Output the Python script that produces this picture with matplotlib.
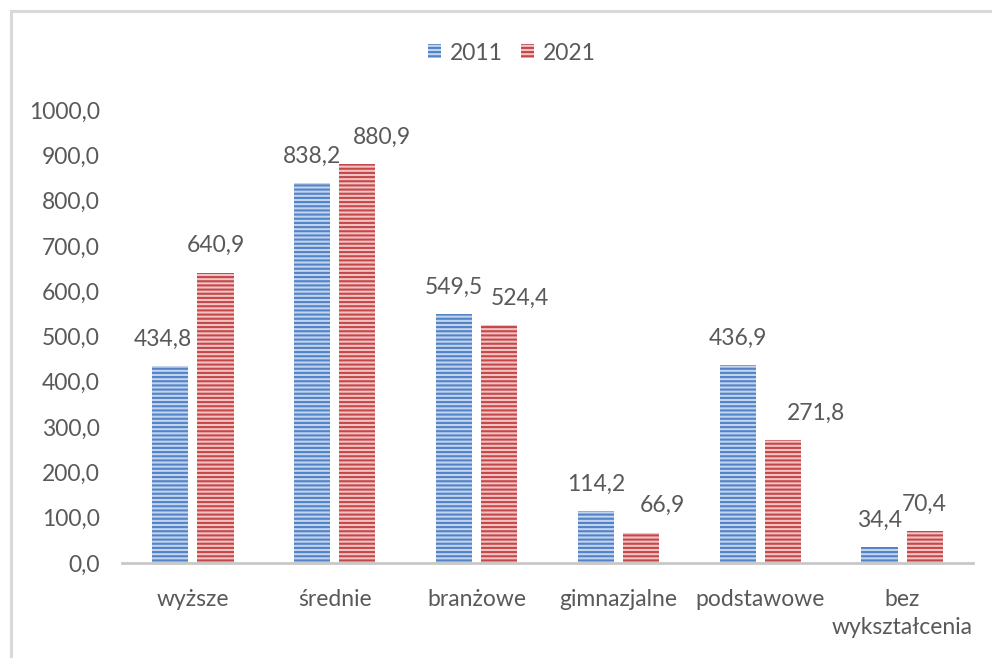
import matplotlib
matplotlib.use("Agg")
import matplotlib.pyplot as plt
import numpy as np
from matplotlib.patches import Patch
from matplotlib.lines import Line2D

categories = ["wyższe", "średnie", "branżowe", "gimnazjalne", "podstawowe", "bez\nwykształcenia"]
years = ["2011", "2021"]
values_2011 = [434.8, 838.2, 549.5, 114.2, 436.9, 34.4]
values_2021 = [640.9, 880.9, 524.4, 66.9, 271.8, 70.4]
yticks = [0, 100, 200, 300, 400, 500, 600, 700, 800, 900, 1000]

# horizontal nudges (in pixels) of data labels, as placed in the original chart
label_dx_2011 = [-8, 0, 0, 0, 0, 0]
label_dx_2021 = [0, 25, 21, 21, 33, 0]

plt.rcParams['font.family'] = ['Lato', 'DejaVu Sans']
plt.rcParams['hatch.linewidth'] = 1.5
TXT = '#595959'
FS = 16.5

fig = plt.figure(figsize=(9.92, 6.58), dpi=100)
ax = fig.add_axes([122/992, 1-563/658, (973-122)/992, (563-110)/658])

x = np.arange(len(categories))
w = 0.255
gap = 0.063
off = (w + gap) / 2
px2pt = 72 / 100

styles = [
    dict(facecolor='#c3d4ee', edgecolor='#5283c6'),
    dict(facecolor='#f0c4c3', edgecolor='#c6474a'),
]
for i, (vals, dxs, st, lab) in enumerate(zip([values_2011, values_2021], [label_dx_2011, label_dx_2021], styles, years)):
    pos = x - off if i == 0 else x + off
    bars = ax.bar(pos, vals, width=w, facecolor=st['facecolor'], edgecolor=st['edgecolor'],
                  hatch='----', linewidth=0, label=lab)
    for b, v, dx in zip(bars, vals, dxs):
        ax.annotate(f"{v:.1f}".replace('.', ','), (b.get_x() + b.get_width()/2, v),
                    xytext=(dx * px2pt, 27 * px2pt), textcoords='offset points',
                    ha='center', va='center', fontsize=FS, color=TXT)

ax.set_xlim(-0.5, len(categories) - 0.5)
ax.set_ylim(0, 1000)
ax.set_yticks(yticks)
ax.set_yticklabels([f"{t:.1f}".replace('.', ',') for t in yticks], fontsize=FS, color=TXT)
ax.set_xticks(x)
ax.set_xticklabels(categories, fontsize=FS, color=TXT, linespacing=1.4)
ax.tick_params(axis='both', length=0)
ax.tick_params(axis='y', pad=16)
ax.tick_params(axis='x', pad=19)
for s in ['top', 'right', 'left']:
    ax.spines[s].set_visible(False)
ax.spines['bottom'].set_color('#c8c8c8')
ax.spines['bottom'].set_linewidth(2)

# legend
handles = [Patch(facecolor=st['facecolor'], edgecolor=st['edgecolor'], hatch='----', linewidth=0) for st in styles]
leg = fig.legend(handles, years, loc='center', bbox_to_anchor=(512/992, 1-53/658), ncol=2,
                 frameon=False, fontsize=FS, handlelength=0.55, handleheight=0.55,
                 handletextpad=0.4, columnspacing=0.8)
for t in leg.get_texts():
    t.set_color(TXT)

# outer border lines (top and left)
fig.add_artist(Line2D([11/992, 1], [1-11/658, 1-11/658], transform=fig.transFigure, color='#d9d9d9', lw=2.2))
fig.add_artist(Line2D([11/992, 11/992], [0, 1-11/658], transform=fig.transFigure, color='#d9d9d9', lw=2.2))

fig.savefig('out.png', dpi=100, facecolor='white')
